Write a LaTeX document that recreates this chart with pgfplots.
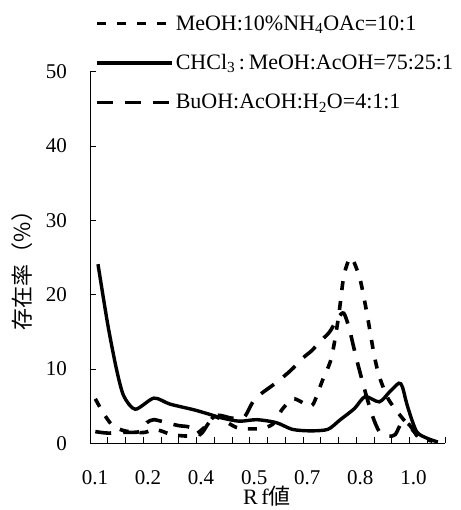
\documentclass[border=0pt]{standalone}
\usepackage{pgfplots}
\pgfplotsset{compat=1.18}
\usepackage{fontspec}
\setmainfont{Liberation Serif}
\newfontfamily\cjk{Noto Sans CJK JP}
\begin{document}
\begin{tikzpicture}
\useasboundingbox (-90pt,-66.5pt) rectangle (370pt,443.5pt);
\begin{axis}[
  at={(0pt,0pt)}, anchor=south west,
  scale only axis, width=355pt, height=372pt,
  xmin=0, xmax=20, ymin=0, ymax=50,
  axis x line*=bottom, axis y line*=left,
  axis line style={line width=0.8pt, -},
  tick align=inside,
  major tick length=6pt,
  tick style={line width=0.6pt, black},
  xtick={0,1,...,20}, xticklabels={},
  extra x ticks={0.28,3.27,6.26,9.25,12.24,15.23,18.22},
  extra x tick labels={0.1,0.2,0.4,0.5,0.7,0.8,1.0},
  extra x tick style={major tick length=0pt, tick label style={anchor=center, inner sep=0pt, yshift=-34pt}},
  ytick={0,10,...,50},
  yticklabel style={anchor=east, inner sep=0pt, xshift=-23pt},
  /pgf/number format/assume math mode=true,
  every tick label/.append style={font=\fontsize{21pt}{25pt}\selectfont},
  xlabel={R\,f{\cjk\fontsize{22pt}{26pt}\selectfont 値}},
  xlabel style={at={(axis description cs:0.4986,-0.1425)}, anchor=center, inner sep=0pt, font=\fontsize{22pt}{25pt}\selectfont},
  ylabel={{\cjk 存在率（\%）}},
  ylabel style={at={(axis description cs:-0.1915,0.48)}, anchor=center, rotate=0, font=\fontsize{22pt}{26pt}\selectfont},
  clip=false,
  legend image code/.code={\draw[#1] (0pt,0pt) -- (75pt,0pt);},
  legend cell align=left,
  legend style={at={(axis description cs:0.014,1.1566)}, anchor=north west, draw=none, fill=none,
    font=\fontsize{22pt}{26pt}\selectfont, inner sep=0pt, row sep=19pt,
    /tikz/every even column/.append style={column sep=0pt}},
]
\addplot[black, line width=3.6pt, dash pattern=on 9pt off 11pt, smooth, tension=0.45] coordinates {
(0.3,6.0) (0.7,4.3) (1.2,2.6) (1.8,1.8) (2.5,1.5) (3.1,1.5) (3.6,1.9) (4.0,1.7) (4.6,1.2) (5.5,1.0) (6.0,1.3) (6.6,2.5) (7.0,3.6) (7.6,3.0) (8.2,2.2) (8.6,2.0) (9.6,2.0) (10.3,2.6) (10.8,4.5) (11.4,6.0) (11.9,5.6) (12.3,5.0) (12.6,5.4) (13.1,8.5) (13.6,11.5) (14.0,17.0) (14.3,22.5) (14.7,25.0) (15.2,22.2) (15.6,17.5) (16.0,12.0) (16.3,9.0) (16.8,6.0) (17.4,4.0) (18.1,2.0) (18.7,0.8) (19.3,0.3)
};
\addlegendentry{MeOH:10\%NH\textsubscript{4}OAc=10:1}
\addplot[black, line width=3.4pt, smooth, tension=0.45] coordinates {
(0.45,24.1) (1.0,16.0) (1.5,9.9) (1.9,6.4) (2.55,4.6) (3.6,6.1) (4.5,5.3) (5.9,4.5) (6.9,3.8) (7.3,3.5) (8.4,3.0) (9.4,3.2) (10.5,2.8) (11.4,1.9) (12.4,1.7) (13.4,1.9) (14.1,3.2) (14.9,4.7) (15.5,6.3) (16.3,5.6) (16.9,7.0) (17.4,8.1) (17.6,7.6) (17.9,4.9) (18.4,1.6) (19.0,0.7) (19.6,0.2)
};
\addlegendentry{CHCl\textsubscript{3}\,:\,MeOH:AcOH=75:25:1}
\addplot[black, line width=3.6pt, dash pattern=on 16pt off 12pt, smooth, tension=0.45] coordinates {
(0.3,1.6) (1.0,1.4) (2.0,1.5) (2.8,1.6) (3.2,2.8) (3.6,3.2) (4.3,2.8) (5.0,2.4) (5.6,2.2) (6.2,1.2) (6.7,2.8) (7.2,3.8) (8.0,3.4) (8.7,3.6) (9.3,6.0) (10.5,8.2) (11.3,9.8) (12.0,11.5) (12.5,12.5) (13.0,13.8) (13.5,15.0) (14.0,17.0) (14.3,17.5) (14.6,15.5) (15.0,11.5) (15.5,7.0) (15.9,3.8) (16.3,1.6) (16.8,1.0) (17.2,1.2) (17.6,3.0) (18.0,2.5) (18.5,0.8) (19.0,0.3)
};
\addlegendentry{BuOH:AcOH:H\textsubscript{2}O=4:1:1}
\end{axis}
\end{tikzpicture}
\end{document}
